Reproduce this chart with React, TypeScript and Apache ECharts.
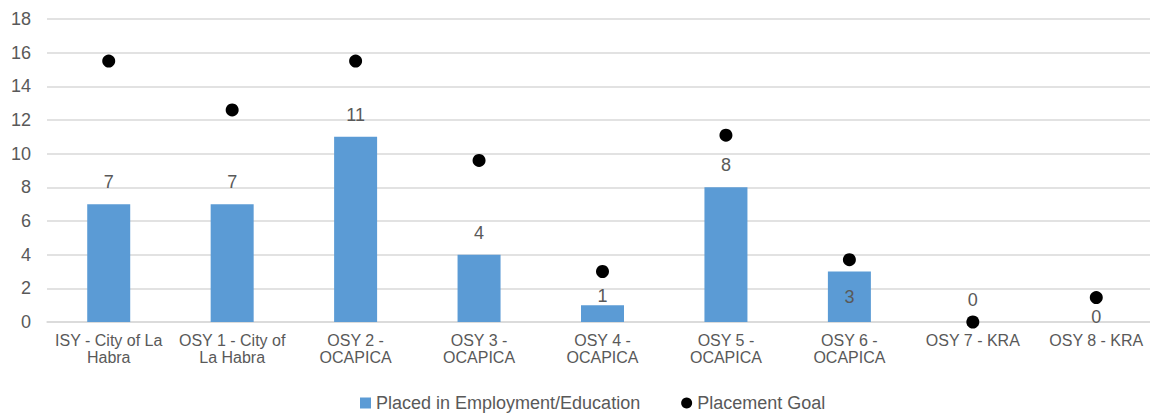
import React, { useEffect, useRef } from "react";
import * as echarts from "echarts";

const categories = [
  "ISY - City of La Habra",
  "OSY 1 - City of La Habra",
  "OSY 2 - OCAPICA",
  "OSY 3 - OCAPICA",
  "OSY 4 - OCAPICA",
  "OSY 5 - OCAPICA",
  "OSY 6 - OCAPICA",
  "OSY 7 - KRA",
  "OSY 8 - KRA",
];
const tickLabels = [
  "ISY - City of La\nHabra",
  "OSY 1 - City of\nLa Habra",
  "OSY 2 -\nOCAPICA",
  "OSY 3 -\nOCAPICA",
  "OSY 4 -\nOCAPICA",
  "OSY 5 -\nOCAPICA",
  "OSY 6 -\nOCAPICA",
  "OSY 7 - KRA",
  "OSY 8 - KRA",
];
const placed = [7, 7, 11, 4, 1, 8, 3, 0, 0];
const goal = [15.5, 12.6, 15.5, 9.6, 3.0, 11.1, 3.7, 0, 1.45];

const FONT = "Liberation Sans";
const GRAY = "#595959";

export default function App() {
  const ref = useRef<HTMLDivElement>(null);
  useEffect(() => {
    if (!ref.current) return;
    const chart = echarts.init(ref.current, undefined, { renderer: "svg" });
    const barData = placed.map((v, i) => {
      if (i === 4) {
        return { value: v, label: { offset: [0, 13] } };
      }
      if (i === 6) {
        return { value: v, label: { position: "inside" } };
      }
      if (i === 8) {
        return { value: v, label: { offset: [0, 17] } };
      }
      return v;
    });
    chart.setOption({
      animation: false,
      textStyle: { fontFamily: FONT },
      grid: { left: 47, right: 0, top: 19, bottom: 91, containLabel: false },
      legend: {
        left: 360,
        top: 394,
        padding: 0,
        itemWidth: 11,
        itemHeight: 11,
        itemGap: 41,
        textStyle: { fontSize: 18, color: GRAY, fontFamily: FONT },
        data: [
          { name: "Placed in Employment/Education", icon: "rect" },
          { name: "Placement Goal", icon: "circle" },
        ],
      },
      xAxis: {
        type: "category",
        data: categories,
        axisLine: { show: true, lineStyle: { color: "#d9d9d9", width: 1.5 } },
        axisTick: { show: false },
        axisLabel: {
          color: GRAY,
          fontSize: 16,
          lineHeight: 17,
          margin: 10,
          interval: 0,
          fontFamily: FONT,
          formatter: (_v: string, idx: number) => tickLabels[idx],
        },
      },
      yAxis: {
        type: "value",
        min: 0,
        max: 18,
        interval: 2,
        axisLine: { show: false },
        axisTick: { show: false },
        axisLabel: { color: GRAY, fontSize: 18, margin: 16, fontFamily: FONT },
        splitLine: { lineStyle: { color: "#d9d9d9", width: 1.5 } },
      },
      series: [
        {
          name: "Placed in Employment/Education",
          type: "bar",
          data: barData,
          barWidth: 43,
          itemStyle: { color: "#5b9bd5" },
          label: {
            show: true,
            position: "top",
            distance: 13,
            color: GRAY,
            fontSize: 18,
            fontFamily: FONT,
          },
        },
        {
          name: "Placement Goal",
          type: "scatter",
          data: goal,
          symbol: "circle",
          symbolSize: 13,
          itemStyle: { color: "#000000", opacity: 1 },
          z: 3,
        },
      ],
    });
    return () => chart.dispose();
  }, []);
  return (
    <div
      ref={ref}
      style={{ position: "fixed", left: 0, top: 0, width: 1158, height: 413, background: "#fff" }}
    />
  );
}
